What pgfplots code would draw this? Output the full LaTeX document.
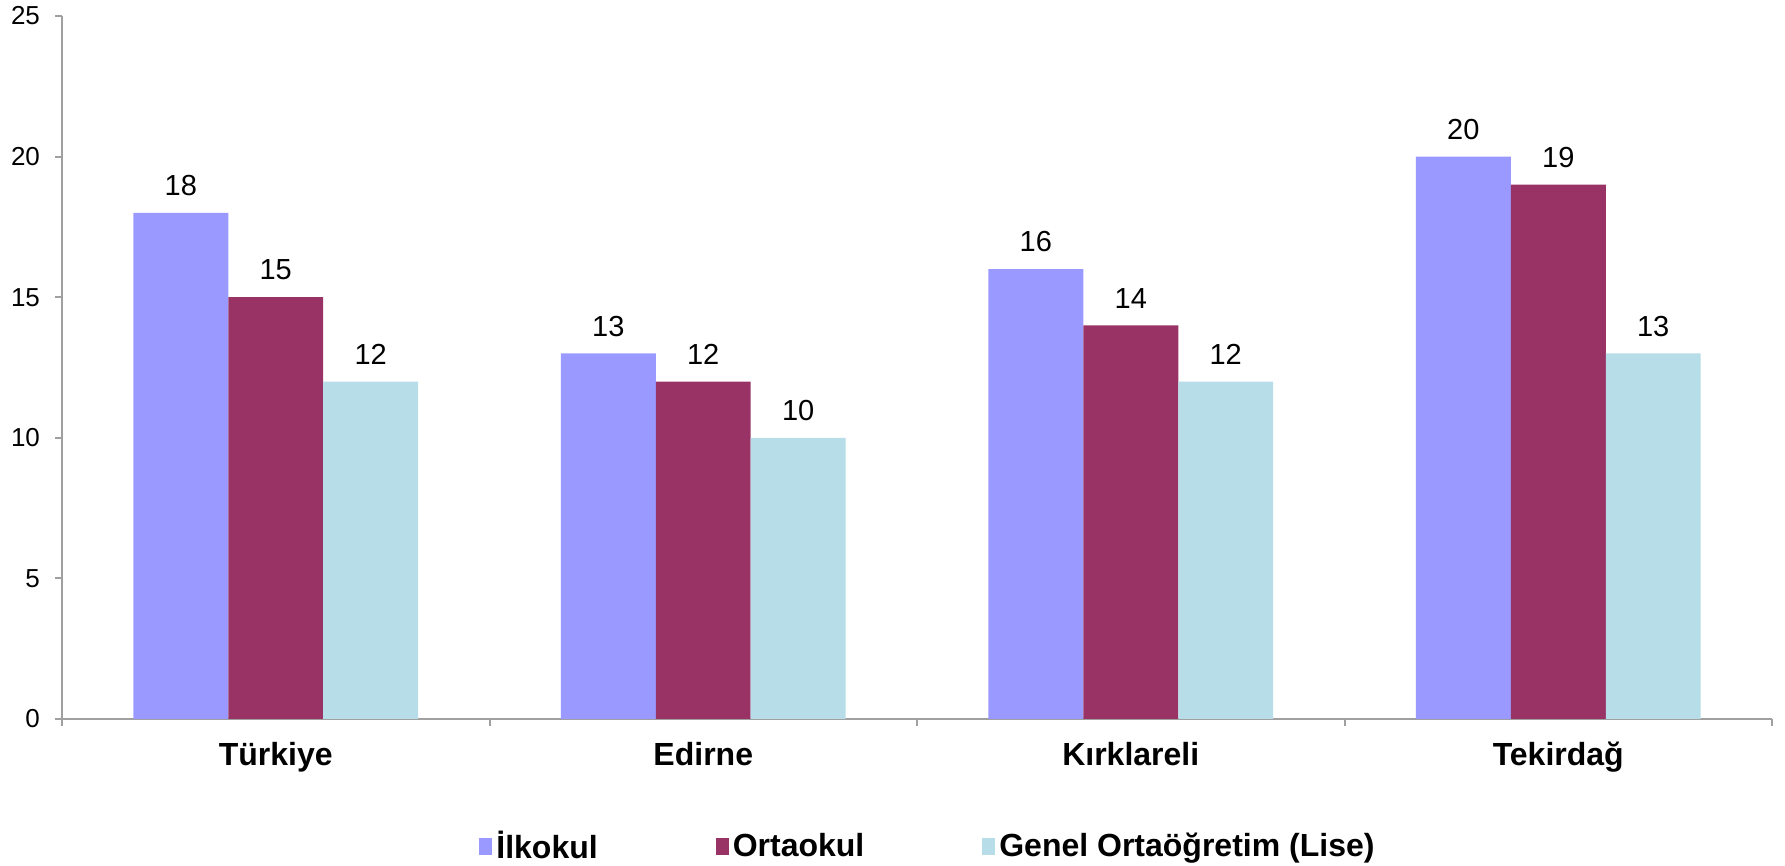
\documentclass[border=0pt]{standalone}
\usepackage{fontspec}
\setmainfont{Liberation Sans}
\usepackage{pgfplots}
\pgfplotsset{compat=1.18}

\definecolor{ilk}{RGB}{153,153,255}
\definecolor{orta}{RGB}{153,51,102}
\definecolor{lise}{RGB}{183,221,232}
\definecolor{axgray}{RGB}{160,160,160}

\begin{document}
\begin{tikzpicture}
\useasboundingbox (0,0) rectangle (892.5pt,433pt);
\begin{axis}[
    at={(31pt,73.5pt)}, anchor=south west,
    scale only axis, width=855pt, height=351.5pt,
    xmin=-0.5, xmax=3.5, ymin=0, ymax=25,
    enlargelimits=false,
    axis x line*=bottom, axis y line*=left,
    axis line style={draw=axgray, line width=1pt, -},
    tick style={draw=axgray, line width=1pt},
    tick align=outside, major tick length=3.5pt,
    xtick={-0.5,0.5,1.5,2.5,3.5}, xticklabels={,,,,},
    extra x ticks={0,1,2,3},
    extra x tick labels={Türkiye,Edirne,Kırklareli,Tekirdağ},
    extra x tick style={major tick length=0pt,
        tick label style={font=\bfseries\fontsize{16}{19}\selectfont, yshift=-8pt}},
    ytick={0,5,...,25},
    yticklabel style={font=\fontsize{13}{15}\selectfont, xshift=-4pt},
    /pgf/number format/assume math mode=true,
    ybar, bar width=0.2222,
    nodes near coords,
    every node near coord/.append style={font=\fontsize{14.5}{17}\selectfont, yshift=5pt, text=black},
    legend columns=3,
    legend image code/.code={\fill[#1] (0pt,-4.25pt) rectangle (6.5pt,4.25pt);},
    legend style={at={(0.507,-0.1807)}, anchor=center, draw=none,
        font=\bfseries\fontsize{16}{19}\selectfont,
        /tikz/every even column/.append style={column sep=57pt}},
]
\addplot[fill=ilk, draw=none, bar shift=-0.2222] coordinates {(0,18) (1,13) (2,16) (3,20)};
\addplot[fill=orta, draw=none, bar shift=0] coordinates {(0,15) (1,12) (2,14) (3,19)};
\addplot[fill=lise, draw=none, bar shift=0.2222] coordinates {(0,12) (1,10) (2,12) (3,13)};
\legend{İlkokul, Ortaokul, Genel Ortaöğretim (Lise)}
\end{axis}
\end{tikzpicture}
\end{document}
